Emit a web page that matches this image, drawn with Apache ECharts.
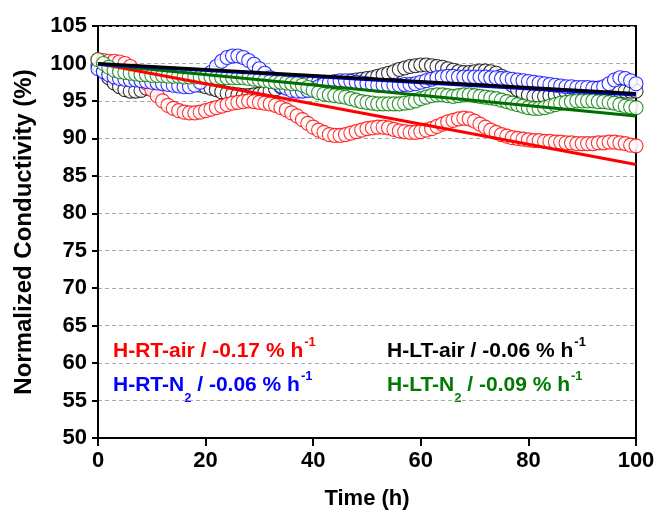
<!DOCTYPE html>
<html>
<head>
<meta charset="utf-8">
<script src="https://cdn.jsdelivr.net/npm/echarts@6/dist/echarts.min.js"></script>
<style>
  html, body { margin: 0; padding: 0; background: #fff; }
  #chart { width: 659px; height: 517px; }
</style>
</head>
<body>
<div id="chart"></div>
<script>
// time in hours
var timeH = [0, 1, 2, 3, 4, 5, 6, 7, 8, 9, 10, 11, 12, 13, 14, 15, 16, 17, 18, 19,
  20, 21, 22, 23, 24, 25, 26, 27, 28, 29, 30, 31, 32, 33, 34, 35, 36, 37, 38, 39,
  40, 41, 42, 43, 44, 45, 46, 47, 48, 49, 50, 51, 52, 53, 54, 55, 56, 57, 58, 59,
  60, 61, 62, 63, 64, 65, 66, 67, 68, 69, 70, 71, 72, 73, 74, 75, 76, 77, 78, 79,
  80, 81, 82, 83, 84, 85, 86, 87, 88, 89, 90, 91, 92, 93, 94, 95, 96, 97, 98, 99, 100]

// normalized conductivity (%) per sample
var rtAir = [100.5, 100.4, 100.3, 100.3, 100.2, 100.0, 99.6, 99.0, 98.3, 97.4,
  96.5, 95.7, 95.0, 94.4, 94.0, 93.7, 93.5, 93.4, 93.4, 93.5,
  93.7, 93.9, 94.1, 94.3, 94.5, 94.7, 94.8, 94.9, 95.0, 94.9,
  94.8, 94.7, 94.6, 94.4, 94.1, 93.8, 93.4, 93.0, 92.5, 92.0,
  91.5, 91.1, 90.8, 90.5, 90.4, 90.4, 90.5, 90.7, 90.9, 91.1,
  91.3, 91.4, 91.5, 91.5, 91.4, 91.2, 91.0, 90.9, 90.8, 90.8,
  90.9, 91.1, 91.3, 91.6, 91.9, 92.2, 92.4, 92.6, 92.7, 92.6,
  92.3, 91.9, 91.5, 91.1, 90.8, 90.5, 90.3, 90.1, 90.0, 89.9,
  89.8, 89.7, 89.7, 89.6, 89.6, 89.5, 89.5, 89.4, 89.4, 89.3,
  89.3, 89.3, 89.3, 89.4, 89.4, 89.5, 89.5, 89.4, 89.3, 89.1, 89.0]

var rtN2 = [99.3, 98.9, 98.5, 98.2, 98.0, 97.9, 97.8, 97.8, 97.7, 97.6,
  97.5, 97.4, 97.3, 97.2, 97.1, 97.0, 96.9, 96.9, 97.1, 97.5,
  98.1, 98.8, 99.6, 100.3, 100.8, 101.0, 101.0, 100.8, 100.4, 99.9,
  99.3, 98.7, 98.1, 97.5, 97.0, 96.7, 96.4, 96.3, 96.3, 96.4,
  96.6, 96.9, 97.2, 97.4, 97.6, 97.7, 97.7, 97.6, 97.5, 97.4,
  97.3, 97.2, 97.1, 97.1, 97.1, 97.1, 97.1, 97.2, 97.2, 97.3,
  97.5, 97.7, 97.9, 98.1, 98.2, 98.3, 98.3, 98.2, 98.2, 98.2,
  98.2, 98.2, 98.2, 98.1, 98.1, 98.0, 98.0, 97.9, 97.8, 97.7,
  97.6, 97.5, 97.4, 97.3, 97.2, 97.1, 97.0, 96.9, 96.9, 96.8,
  96.8, 96.8, 96.7, 96.7, 96.9, 97.3, 97.8, 98.1, 98.0, 97.7, 97.3]

var ltAir = [99.8, 99.0, 98.1, 97.4, 96.9, 96.5, 96.3, 96.3, 96.4, 96.7,
  97.0, 97.3, 97.5, 97.6, 97.7, 97.7, 97.6, 97.5, 97.3, 97.1,
  96.9, 96.7, 96.5, 96.2, 96.0, 95.9, 95.8, 95.7, 95.7, 95.8,
  95.9, 96.1, 96.3, 96.6, 96.9, 97.1, 97.3, 97.4, 97.5, 97.5,
  97.5, 97.5, 97.5, 97.5, 97.5, 97.6, 97.6, 97.7, 97.8, 97.9,
  98.0, 98.1, 98.3, 98.5, 98.7, 98.9, 99.2, 99.4, 99.6, 99.7,
  99.8, 99.8, 99.7, 99.6, 99.5, 99.3, 99.1, 98.9, 98.8, 98.8,
  98.9, 99.0, 99.0, 98.9, 98.7, 98.3, 97.8, 97.1, 96.5, 96.1,
  95.8, 95.6, 95.6, 95.6, 95.7, 95.8, 96.0, 96.2, 96.3, 96.3,
  96.2, 96.1, 96.0, 96.0, 96.0, 96.1, 96.2, 96.3, 96.3, 96.3, 96.3]

var ltN2 = [100.5, 100.0, 99.5, 99.1, 98.9, 98.8, 98.7, 98.6, 98.5, 98.5,
  98.4, 98.4, 98.4, 98.3, 98.3, 98.3, 98.2, 98.2, 98.2, 98.2,
  98.2, 98.2, 98.1, 98.1, 98.1, 98.1, 98.1, 98.1, 98.0, 97.9,
  97.8, 97.7, 97.6, 97.5, 97.5, 97.4, 97.3, 97.3, 97.1, 96.8,
  96.4, 96.1, 95.9, 95.8, 95.7, 95.6, 95.5, 95.3, 95.1, 94.9,
  94.8, 94.7, 94.6, 94.6, 94.6, 94.6, 94.6, 94.7, 94.8, 95.0,
  95.3, 95.5, 95.7, 95.8, 95.8, 95.7, 95.6, 95.7, 95.8, 95.8,
  95.7, 95.6, 95.5, 95.4, 95.3, 95.1, 94.9, 94.7, 94.5, 94.3,
  94.1, 94.0, 94.0, 94.1, 94.3, 94.5, 94.7, 94.8, 94.9, 95.0,
  95.0, 95.0, 95.0, 94.9, 94.9, 94.8, 94.7, 94.5, 94.3, 94.2, 94.1]

// linear fits, value at t = 0 h and t = 100 h
var fitTime = [0, 100]
var rtAirFit = [100.0, 86.5]
var ltN2Fit = [99.9, 93.0]
var rtN2Fit = [99.9, 95.8]
var ltAirFit = [100.0, 96.0]

var yTicks = { min: 50, max: 105, step: 5 }
var xTicks = { min: 0, max: 100, step: 20 }

function pairs(xs, ys) {
  var out = []
  for (var i = 0; i < xs.length; i++) out.push([xs[i], ys[i]])
  return out
}

var font = "'Liberation Sans', Arial, sans-serif"

function circles(name, values, color) {
  return {
    name: name,
    type: 'scatter',
    data: pairs(timeH, values),
    symbol: 'circle',
    symbolSize: 14,
    itemStyle: { color: '#fff', borderColor: color, borderWidth: 1.1 },
    silent: true,
    z: 2
  }
}

function fitLine(name, values, color) {
  return {
    name: name,
    type: 'line',
    data: pairs(fitTime, values),
    showSymbol: false,
    lineStyle: { color: color, width: 3 },
    silent: true,
    z: 5
  }
}

function label(x, y, color, main, mid, tail) {
  // mid is the subscript (or empty), tail follows with the "-1" superscript
  var text = '{m|' + main + '}'
  if (mid) text += '{sub|' + mid + '}'
  text += '{m|' + tail + '}{sup|-1}'
  return {
    type: 'text',
    x: x,
    y: y,
    silent: true,
    style: {
      text: text,
      verticalAlign: 'middle',
      rich: {
        m: { fontFamily: font, fontWeight: 'bold', fontSize: 21, fill: color },
        sub: { fontFamily: font, fontWeight: 'bold', fontSize: 13, fill: color, padding: [26, 0, 0, 0] },
        sup: { fontFamily: font, fontWeight: 'bold', fontSize: 13, fill: color, padding: [0, 0, 18, 1] }
      }
    }
  }
}

var chart = echarts.init(document.getElementById('chart'))

chart.setOption({
  backgroundColor: '#fff',
  animation: false,
  grid: {
    left: 98,
    right: 23,
    top: 26,
    bottom: 79,
    show: true,
    borderColor: '#000',
    borderWidth: 2
  },
  xAxis: {
    type: 'value',
    min: xTicks.min,
    max: xTicks.max,
    interval: xTicks.step,
    name: 'Time (h)',
    nameLocation: 'middle',
    nameGap: 50,
    nameTextStyle: { fontFamily: font, fontWeight: 'bold', fontSize: 22, color: '#000' },
    axisLine: { lineStyle: { color: '#000', width: 2 } },
    axisTick: { inside: false, length: 8, lineStyle: { color: '#000', width: 2 } },
    axisLabel: { margin: 12, fontFamily: font, fontWeight: 'bold', fontSize: 22, color: '#000' },
    splitLine: { show: false }
  },
  yAxis: {
    type: 'value',
    min: yTicks.min,
    max: yTicks.max,
    interval: yTicks.step,
    name: 'Normalized Conductivity (%)',
    nameLocation: 'middle',
    nameRotate: 90,
    nameGap: 62,
    nameTextStyle: { fontFamily: font, fontWeight: 'bold', fontSize: 24, color: '#000' },
    axisLine: { lineStyle: { color: '#000', width: 2 } },
    axisTick: { inside: false, length: 6, lineStyle: { color: '#000', width: 2 } },
    axisLabel: { margin: 11, fontFamily: font, fontWeight: 'bold', fontSize: 22, color: '#000' },
    splitLine: { show: true, lineStyle: { color: '#aaa', width: 1, type: [4, 3] } }
  },
  graphic: [
    label(113, 351, '#ff0000', 'H-RT-air / -0.17 % h', '', ''),
    label(113, 385, '#0000ff', 'H-RT-N', '2', ' / -0.06 % h'),
    label(387, 351, '#000000', 'H-LT-air / -0.06 % h', '', ''),
    label(387, 385, '#007a00', 'H-LT-N', '2', ' / -0.09 % h')
  ],
  series: [
    circles('H-LT-air', ltAir, '#000000'),
    circles('H-RT-air', rtAir, '#ff0000'),
    circles('H-RT-N2', rtN2, '#0000ff'),
    circles('H-LT-N2', ltN2, '#007a00'),
    fitLine('H-RT-air fit', rtAirFit, '#ff0000'),
    fitLine('H-LT-N2 fit', ltN2Fit, '#006e00'),
    fitLine('H-RT-N2 fit', rtN2Fit, '#0000cc'),
    fitLine('H-LT-air fit', ltAirFit, '#000000')
  ]
})
</script>
</body>
</html>
